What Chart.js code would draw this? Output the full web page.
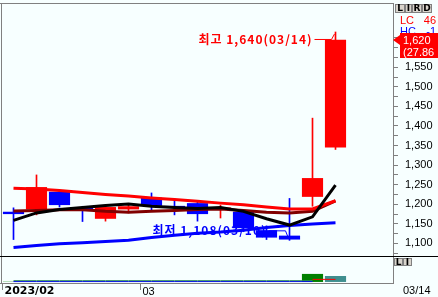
<!DOCTYPE html>
<html>
<head>
<meta charset="utf-8">
<script src="https://cdn.jsdelivr.net/npm/chart.js@4.4.1/dist/chart.umd.min.js"></script>
<style>
  html, body { margin: 0; padding: 0; background: #f7ffff; }
  #wrap { width: 438px; height: 297px; }
</style>
</head>
<body>
<div id="wrap"><canvas id="chart" width="438" height="297"></canvas></div>
<script>
// daily candles, 2023-02-21 .. 2023-03-14
const dates = ['02/21','02/22','02/23','02/24','02/27','02/28','03/02','03/03','03/06','03/07','03/08','03/09','03/10','03/13','03/14'];
const openP  = [1181, 1187, 1232, 1192, 1163, 1187, 1217, 1196, 1203, 1190, 1181, 1134, 1120, 1219, 1345];
const closeP = [1175, 1244, 1198, 1184, 1193, 1195, 1196, 1193, 1175, 1192, 1139, 1115, 1110, 1267, 1620];
const highP  = [1191, 1275, 1235, 1195, 1195, 1198, 1229, 1214, 1205, 1198, 1185, 1145, 1215, 1420, 1640];
const lowP   = [1110, 1173, 1193, 1156, 1157, 1178, 1186, 1173, 1157, 1165, 1130, 1110, 1108, 1195, 1340];

// moving averages
const ma5  = [1159, 1178, 1187, 1192, 1197, 1201, 1195, 1192, 1189, 1192, 1182, 1163, 1147, 1168, 1249];
const ma10 = [1183, 1184, 1186, 1186, 1182, 1180, 1182, 1184, 1187, 1188, 1184, 1180, 1178, 1182, 1209];
const ma20 = [1241, 1239, 1235, 1230, 1225, 1221, 1216, 1212, 1208, 1203, 1199, 1193, 1188, 1188, 1209];
const ma60 = [1090, 1095, 1099, 1102, 1105, 1108, 1115, 1121, 1126, 1129, 1134, 1141, 1146, 1150, 1153];

// lower panel (volume, relative units)
const volume   = [1, 1, 1, 1, 1, 1, 1, 1, 1, 1, 1, 1, 1, 31, 23];
const volShort = [null, null, null, null, null, null, null, null, null, null, null, null, null, 10, 10];
const volMid   = [5, 5, 5, 5, 5, 5, 5, 5, 5, 5, 5, 5, 5, 5, null];
const volLong  = [1.5, 1.5, 1.5, 1.5, 1.5, 1.5, 1.5, 1.5, 1.5, 1.5, 1.5, 1.5, 1.5, 1.5, null];

const priceTicks = { min: 1068, max: 1714, step: 25, labelEvery: 50 };
const xLabels = { 0: '2023/02', 6: '03' };

const UP = '#ff0000', DOWN = '#0000ff', BG = '#f7ffff';
const candleColor = closeP.map((c, i) => c >= openP[i] ? UP : DOWN);
const volColor = volume.map((v, i) => i === volume.length - 1 ? '#3f8f8f' : '#008000');

const fmt = v => v.toLocaleString('en-US');

function button(c, x, y, w, h, txt) {
  c.fillStyle = '#d8d4cc';
  c.fillRect(x, y, w, h);
  c.strokeStyle = '#808080';
  c.lineWidth = 1;
  c.strokeRect(x + 0.5, y + 0.5, w - 1, h - 1);
  c.fillStyle = '#000';
  c.font = 'bold 9px "DejaVu Sans"';
  c.textAlign = 'center';
  c.textBaseline = 'middle';
  c.fillText(txt, x + w / 2, y + h / 2 + 0.5);
}

// keep the stacked right axes flush with the plot
function fitRight(s) {
  s.width = 45;
  s.paddingTop = 0;
  s.paddingBottom = 0;
}

const frame = {
  id: 'frame',
  beforeDraw(chart) {
    const c = chart.ctx;
    c.save();
    c.fillStyle = BG;
    c.fillRect(0, 0, chart.width, chart.height);
    c.restore();
  },
  afterDraw(chart) {
    const c = chart.ctx, a = chart.chartArea;
    const xs = chart.scales.x, ys = chart.scales.y;
    c.save();

    // panel lines
    c.lineWidth = 1;
    c.strokeStyle = '#808080';
    c.beginPath();
    c.moveTo(0, 3.5); c.lineTo(a.right, 3.5);
    c.moveTo(1.5, 3); c.lineTo(1.5, a.bottom);
    c.moveTo(0, a.bottom + 0.5); c.lineTo(a.right, a.bottom + 0.5);
    c.stroke();
    c.strokeStyle = '#000';
    c.beginPath();
    c.moveTo(0, ys.bottom + 0.5); c.lineTo(chart.width, ys.bottom + 0.5);
    c.stroke();

    // right header
    c.fillStyle = BG;
    c.fillRect(a.right + 1, 0, chart.width - a.right, 33);
    button(c, 395, 4, 10, 9, 'L');
    button(c, 405, 4, 7, 9, 'I');
    button(c, 412, 4, 10, 9, 'R');
    button(c, 422, 4, 10, 9, 'D');
    button(c, 394, 258, 9, 8, 'L');
    button(c, 403, 258, 9, 8, 'I');

    c.font = '11px "Liberation Sans"';
    c.textBaseline = 'middle';
    c.textAlign = 'left';
    c.fillStyle = '#ff0000';
    c.fillText('LC', 400, 21);
    c.textAlign = 'right';
    c.fillText('46', 436, 21);
    c.fillStyle = '#0000ff';
    c.textAlign = 'left';
    c.fillText('HC', 400, 32);
    c.textAlign = 'right';
    c.fillText('-1', 436, 32);

    // last price box
    const n = closeP.length - 1;
    const lastY = Math.round(ys.getPixelForValue(closeP[n]));
    const pct = ((closeP[n] / closeP[n - 1] - 1) * 100).toFixed(2);
    c.fillStyle = '#ff0000';
    c.fillRect(400, lastY - 7, 38, 25);
    c.beginPath();
    c.moveTo(393, lastY); c.lineTo(400, lastY - 5); c.lineTo(400, lastY + 5);
    c.closePath(); c.fill();
    c.fillStyle = '#fff';
    c.textAlign = 'left';
    c.fillText(fmt(closeP[n]), 403, lastY + 1);
    c.fillText('(' + pct, 403, lastY + 13);

    // right date label
    c.fillStyle = '#000';
    c.fillText(dates[n], 403, 291);

    // high / low annotations
    let hi = 0, lo = 0;
    highP.forEach((v, i) => { if (v > highP[hi]) hi = i; });
    lowP.forEach((v, i) => { if (v < lowP[lo]) lo = i; });
    c.font = 'bold 12px "Noto Sans CJK KR"';
    c.letterSpacing = '1px';
    c.textAlign = 'right';

    let px = xs.getPixelForValue(hi), py = ys.getPixelForValue(highP[hi]);
    let ty = py + 7;
    c.fillStyle = '#ff0000'; c.strokeStyle = '#ff0000';
    c.fillText('최고 ' + fmt(highP[hi]) + '(' + dates[hi] + ')', px - 23, ty);
    c.beginPath();
    c.moveTo(px - 21, ty + 0.5); c.lineTo(px - 4, ty + 0.5); c.lineTo(px - 1, py + 2);
    c.stroke();

    px = xs.getPixelForValue(lo); py = ys.getPixelForValue(lowP[lo]);
    ty = py - 10;
    c.fillStyle = '#0000ff'; c.strokeStyle = '#0000ff';
    c.fillText('최저 ' + fmt(lowP[lo]) + '(' + dates[lo] + ')', px - 23, ty);
    c.beginPath();
    c.moveTo(px - 21, ty + 0.5); c.lineTo(px - 4, ty + 0.5); c.lineTo(px - 1, py - 2);
    c.stroke();

    c.restore();
  }
};

const labels = dates.concat(['', '']);

new Chart(document.getElementById('chart'), {
  type: 'bar',
  data: {
    labels,
    datasets: [
      { type: 'line', data: ma5, borderColor: '#000000', borderWidth: 3, pointRadius: 0, order: 1, yAxisID: 'y' },
      { type: 'line', data: ma20, borderColor: '#ff0000', borderWidth: 3, pointRadius: 0, order: 2, yAxisID: 'y' },
      { type: 'line', data: ma10, borderColor: '#800000', borderWidth: 3, pointRadius: 0, order: 3, yAxisID: 'y' },
      { type: 'line', data: ma60, borderColor: '#0000ff', borderWidth: 3, pointRadius: 0, order: 4, yAxisID: 'y' },
      { data: openP.map((o, i) => [o, closeP[i]]), backgroundColor: candleColor, order: 5, yAxisID: 'y' },
      { data: lowP.map((l, i) => [l, highP[i]]), backgroundColor: candleColor, barThickness: 1, order: 6, yAxisID: 'y' },
      { type: 'line', data: volShort, borderColor: '#ff0000', borderWidth: 1, pointRadius: 0, order: 1, yAxisID: 'yv' },
      { type: 'line', data: volMid, borderColor: '#2e8b57', borderWidth: 1, pointRadius: 0, order: 1, yAxisID: 'yv' },
      { type: 'line', data: volLong, borderColor: '#0000ff', borderWidth: 1, pointRadius: 0, order: 1, yAxisID: 'yv' },
      { data: volume, backgroundColor: volColor, order: 5, yAxisID: 'yv' }
    ]
  },
  options: {
    responsive: false,
    animation: false,
    devicePixelRatio: 1,
    layout: { padding: { top: 3, left: 2, right: 0, bottom: 0 } },
    datasets: { bar: { grouped: false, categoryPercentage: 1, barPercentage: 0.92 } },
    plugins: { legend: { display: false }, tooltip: { enabled: false } },
    scales: {
      x: {
        afterFit: s => { s.height = 14; },
        grid: {
          offset: true,
          drawOnChartArea: false,
          tickLength: 7,
          tickColor: ctx => (ctx.index in xLabels) ? '#808080' : 'rgba(0,0,0,0)'
        },
        border: { display: false },
        ticks: {
          autoSkip: false,
          maxRotation: 0,
          align: 'start',
          labelOffset: -9,
          padding: -5,
          color: '#000',
          font: ctx => ctx.index === 0 ? { family: 'DejaVu Sans', size: 11, weight: 'bold' } : { family: 'Liberation Sans', size: 11 },
          callback: (v, i) => xLabels[i] || ''
        }
      },
      y: {
        position: 'right',
        stack: 'main',
        stackWeight: 253,
        min: priceTicks.min,
        max: priceTicks.max,
        afterFit: fitRight,
        grid: { drawOnChartArea: false, tickLength: 5, tickColor: '#808080' },
        border: { color: '#808080' },
        ticks: {
          stepSize: priceTicks.step,
          includeBounds: false,
          autoSkip: false,
          padding: 7,
          color: '#000',
          font: { family: 'Liberation Sans', size: 11 },
          callback: v => v % priceTicks.labelEvery === 0 ? fmt(v) : ''
        }
      },
      yv: {
        position: 'right',
        stack: 'main',
        stackWeight: 27,
        min: -4,
        max: 100,
        afterFit: fitRight,
        grid: { display: false },
        border: { color: '#808080' },
        ticks: { display: false }
      }
    }
  },
  plugins: [frame]
});
</script>
</body>
</html>
